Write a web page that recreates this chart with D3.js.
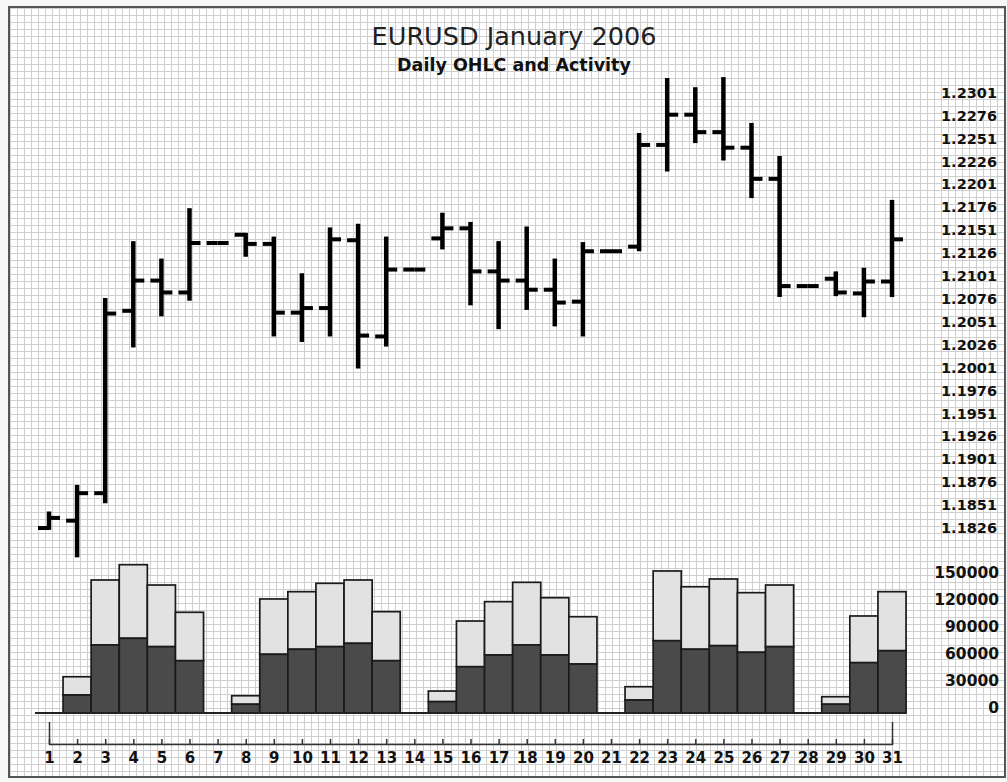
<!DOCTYPE html>
<html>
<head>
<meta charset="utf-8">
<script src="https://cdn.jsdelivr.net/npm/d3@7"></script>
<style>
  body { margin: 0; background: #f7f7f7; }
  text { font-family: "DejaVu Sans", Verdana, sans-serif; fill: #111; }
</style>
</head>
<body>
<div id="chart"></div>
<script>
var width  = 1007;
var height = 782;

// Days of January 2006
var days = d3.range(1, 32);

// Daily OHLC
var open  = [1.1826, 1.1834, 1.1864, 1.2063, 1.2096, 1.2083, 1.2137, 1.2146, 1.2136, 1.2061, 1.2066,
             1.2140, 1.2035, 1.2108, 1.2142, 1.2153, 1.2106, 1.2096, 1.2086, 1.2073, 1.2128, 1.2133,
             1.2244, 1.2277, 1.2258, 1.2241, 1.2207, 1.2090, 1.2098, 1.2082, 1.2095];
var high  = [1.1844, 1.1873, 1.2077, 1.2139, 1.2120, 1.2175, 1.2137, 1.2148, 1.2144, 1.2104, 1.2154,
             1.2158, 1.2144, 1.2108, 1.2170, 1.2160, 1.2139, 1.2155, 1.2120, 1.2138, 1.2128, 1.2257,
             1.2317, 1.2307, 1.2318, 1.2268, 1.2232, 1.2090, 1.2106, 1.2110, 1.2184];
var low   = [1.1824, 1.1794, 1.1853, 1.2023, 1.2057, 1.2074, 1.2137, 1.2122, 1.2035, 1.2029, 1.2035,
             1.2000, 1.2024, 1.2108, 1.2130, 1.2069, 1.2043, 1.2064, 1.2046, 1.2035, 1.2128, 1.2128,
             1.2215, 1.2246, 1.2227, 1.2186, 1.2078, 1.2090, 1.2079, 1.2056, 1.2078];
var close = [1.1837, 1.1864, 1.2060, 1.2096, 1.2083, 1.2137, 1.2137, 1.2136, 1.2061, 1.2066, 1.2141,
             1.2036, 1.2108, 1.2108, 1.2153, 1.2106, 1.2096, 1.2086, 1.2072, 1.2128, 1.2128, 1.2244,
             1.2277, 1.2258, 1.2241, 1.2207, 1.2090, 1.2090, 1.2083, 1.2095, 1.2141];

// Activity, stacked: dark lower part and light upper part
var activityLower = [0, 20000, 75600, 83000, 73700, 58100, 0, 9700, 65200, 70800, 73700,
                     77400, 58100, 0, 12600, 51400, 64400, 75600, 64400, 54400, 0, 14400,
                     80300, 70800, 74800, 67400, 73700, 0, 9700, 55900, 69200];
var activityUpper = [0, 20300, 72200, 81800, 68500, 53800, 0, 9500, 61500, 64000, 70400,
                     70400, 54500, 0, 11800, 50800, 59300, 69600, 63700, 52600, 0, 14800,
                     77500, 69500, 74100, 66300, 68500, 0, 8400, 51900, 65600];

// Tick labels
var priceTicks = [1.1826, 1.1851, 1.1876, 1.1901, 1.1926, 1.1951, 1.1976, 1.2001, 1.2026, 1.2051,
                  1.2076, 1.2101, 1.2126, 1.2151, 1.2176, 1.2201, 1.2226, 1.2251, 1.2276, 1.2301];
var volumeTicks = [0, 30000, 60000, 90000, 120000, 150000];

var svg = d3.select('#chart')
            .append('svg')
            .attr('width', width)
            .attr('height', height);

// Graph paper background
var pat = svg.append('defs').append('pattern')
             .attr('id', 'grid')
             .attr('width', 7).attr('height', 7)
             .attr('patternUnits', 'userSpaceOnUse')
             .attr('x', 10).attr('y', 8);
pat.append('rect').attr('width', 7).attr('height', 7).attr('fill', '#fff');
pat.append('path')
   .attr('d', 'M0,0.5H7M0.5,0V7')
   .attr('stroke', '#cfcfcf')
   .attr('stroke-width', 1);

svg.append('rect')
   .attr('x', 9).attr('y', 7)
   .attr('width', 996).attr('height', 770)
   .attr('fill', 'url(#grid)')
   .attr('stroke', '#555')
   .attr('stroke-width', 2);

// Title
svg.append('text')
   .attr('x', 514).attr('y', 45)
   .attr('text-anchor', 'middle')
   .style('font-size', '25.5px')
   .style('fill', '#222')
   .text('EURUSD January 2006');
svg.append('text')
   .attr('x', 514).attr('y', 71)
   .attr('text-anchor', 'middle')
   .style('font-size', '17.5px')
   .style('font-weight', 'bold')
   .text('Daily OHLC and Activity');

// Scales
var x = d3.scaleLinear().domain([1, 31]).range([49, 892]);
var y = d3.scaleLinear().domain([1.1826, 1.2301]).range([528, 92.7]);
var v = d3.scaleLinear().domain([0, 150000]).range([713, 578]);
var half = (x(2) - x(1)) / 2;

// Activity bars
var bars = svg.append('g');
days.forEach(function(d, i) {
  if (activityLower[i] + activityUpper[i] === 0) return;
  bars.append('rect')
      .attr('x', x(d) - half).attr('width', half * 2)
      .attr('y', v(activityLower[i] + activityUpper[i]))
      .attr('height', v(activityLower[i]) - v(activityLower[i] + activityUpper[i]))
      .attr('fill', '#e2e2e2')
      .attr('stroke', '#1a1a1a').attr('stroke-width', 1.7);
  bars.append('rect')
      .attr('x', x(d) - half).attr('width', half * 2)
      .attr('y', v(activityLower[i]))
      .attr('height', v(0) - v(activityLower[i]))
      .attr('fill', '#4a4a4a')
      .attr('stroke', '#1a1a1a').attr('stroke-width', 1.7);
});

svg.append('line')
   .attr('x1', x(1) - half).attr('x2', x(31) + half)
   .attr('y1', v(0)).attr('y2', v(0))
   .attr('stroke', '#222').attr('stroke-width', 2);

// OHLC bars
var ohlc = svg.append('g').attr('stroke', '#000');
days.forEach(function(d, i) {
  var cx = x(d);
  ohlc.append('line')
      .attr('x1', cx).attr('x2', cx)
      .attr('y1', y(high[i])).attr('y2', y(low[i]))
      .attr('stroke-width', 4.5);
  ohlc.append('line')
      .attr('x1', cx - 11).attr('x2', cx)
      .attr('y1', y(open[i])).attr('y2', y(open[i]))
      .attr('stroke-width', 4);
  ohlc.append('line')
      .attr('x1', cx).attr('x2', cx + 11)
      .attr('y1', y(close[i])).attr('y2', y(close[i]))
      .attr('stroke-width', 4);
});

// Price axis (labels only)
var priceAxis = svg.append('g')
   .attr('transform', 'translate(997,0)')
   .call(d3.axisRight(y).tickValues(priceTicks).tickSize(0).tickPadding(0)
           .tickFormat(d3.format('.4f')));
priceAxis.select('.domain').remove();
priceAxis.selectAll('text')
   .attr('text-anchor', 'end')
   .style('font-size', '14.5px').style('font-weight', 'bold')
   .style('font-family', '"DejaVu Sans", Verdana, sans-serif');

// Activity axis (labels only)
var volAxis = svg.append('g')
   .attr('transform', 'translate(999,-5)')
   .call(d3.axisRight(v).tickValues(volumeTicks).tickSize(0).tickPadding(0)
           .tickFormat(d3.format('d')));
volAxis.select('.domain').remove();
volAxis.selectAll('text')
   .attr('text-anchor', 'end')
   .style('font-size', '15.5px').style('font-weight', 'bold')
   .style('font-family', '"DejaVu Sans", Verdana, sans-serif');

// Day axis: bracket with small upward ticks
var dayAxis = svg.append('g')
   .attr('transform', 'translate(0,744)')
   .call(d3.axisBottom(x).tickValues(days).tickSizeInner(-5).tickSizeOuter(-22)
           .tickPadding(8).tickFormat(d3.format('d')));
dayAxis.select('.domain').attr('stroke', '#333').attr('stroke-width', 1.5);
dayAxis.selectAll('.tick line').attr('stroke', '#333').attr('stroke-width', 1.5);
dayAxis.selectAll('text')
   .style('font-size', '15px').style('font-weight', 'bold')
   .style('font-family', '"DejaVu Sans", Verdana, sans-serif')
   .style('fill', '#111');
</script>
</body>
</html>
